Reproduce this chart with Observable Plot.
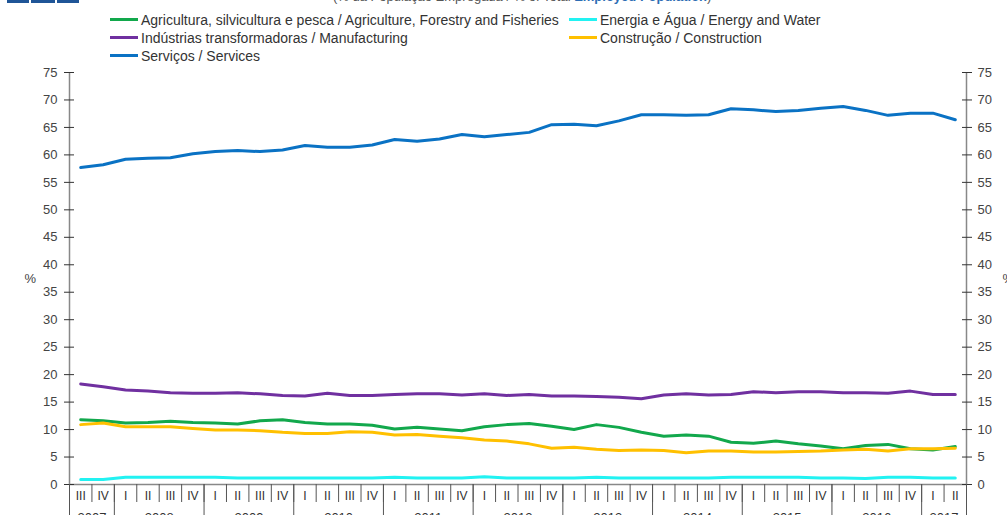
<!DOCTYPE html>
<html>
<head>
<meta charset="utf-8">
<script src="https://cdn.jsdelivr.net/npm/d3@7"></script>
<script src="https://cdn.jsdelivr.net/npm/@observablehq/plot@0.6"></script>
<style>
  html, body { margin: 0; padding: 0; background: #fff; overflow: hidden; }
  #page { position: relative; width: 1007px; height: 515px; font-family: "Liberation Sans", Arial, sans-serif; }
  #header { position: relative; width: 1007px; height: 62px; }
  .logo { position: absolute; top: 0; height: 3px; background: #1f5597; }
  #title { position: absolute; top: -10px; left: 333px; font-size: 13px; line-height: 13px; white-space: nowrap; color: #555; }
  #title b { color: #2e6db4; }
  .lg { position: absolute; font-size: 14px; color: #333; white-space: nowrap; line-height: 16px; }
  .lg span.sw { position: absolute; left: -31px; top: 6px; width: 28px; height: 3px; }
</style>
</head>
<body>
<div id="page">
  <div id="header"></div>
  <div id="chart"></div>
</div>
<script>
// ---- data ----
const quarters = ["III","IV",
  "I","II","III","IV", "I","II","III","IV", "I","II","III","IV",
  "I","II","III","IV", "I","II","III","IV", "I","II","III","IV",
  "I","II","III","IV", "I","II","III","IV", "I","II","III","IV",
  "I","II"];
const years = ["2007","2008","2009","2010","2011","2012","2013","2014","2015","2016","2017"];

const seriesNames = [
  "Agricultura, silvicultura e pesca / Agriculture, Forestry and Fisheries",
  "Energia e Água / Energy and Water",
  "Indústrias transformadoras / Manufacturing",
  "Construção / Construction",
  "Serviços / Services"
];
const seriesColors = ["#12a84c", "#22f2f2", "#7030a0", "#ffc000", "#0a72c4"];

const agriculture = [11.8,11.6,11.2,11.3,11.5,11.3,11.2,11.0,11.6,11.8,11.3,11.0,11.0,10.8,10.1,10.4,10.1,9.8,10.5,10.9,
                     11.1,10.6,10.0,10.9,10.4,9.5,8.8,9.0,8.8,7.7,7.5,7.9,7.4,7.0,6.5,7.1,7.3,6.5,6.3,6.9];
const energy      = [0.9,0.9,1.3,1.3,1.3,1.3,1.3,1.2,1.2,1.2,1.2,1.2,1.2,1.2,1.3,1.2,1.2,1.2,1.4,1.2,
                     1.2,1.2,1.2,1.3,1.2,1.2,1.2,1.2,1.2,1.3,1.3,1.3,1.3,1.2,1.2,1.1,1.3,1.3,1.2,1.2];
const manufacturing = [18.3,17.8,17.2,17.0,16.7,16.6,16.6,16.7,16.5,16.2,16.1,16.6,16.2,16.2,16.4,16.5,16.5,16.3,16.5,16.2,
                     16.4,16.1,16.1,16.0,15.9,15.6,16.3,16.5,16.3,16.4,16.9,16.7,16.9,16.9,16.7,16.7,16.6,17.0,16.4,16.4];
const construction = [10.9,11.2,10.5,10.5,10.5,10.2,9.9,9.9,9.8,9.5,9.3,9.3,9.6,9.5,9.0,9.1,8.8,8.5,8.1,7.9,
                     7.4,6.6,6.8,6.4,6.2,6.3,6.2,5.8,6.1,6.1,5.9,5.9,6.0,6.1,6.3,6.4,6.1,6.5,6.5,6.6];
const services    = [57.7,58.2,59.2,59.4,59.5,60.2,60.6,60.8,60.6,60.9,61.7,61.4,61.4,61.8,62.8,62.5,62.9,63.7,63.3,63.7,
                     64.1,65.5,65.6,65.3,66.2,67.3,67.3,67.2,67.3,68.4,68.2,67.9,68.1,68.5,68.8,68.1,67.2,67.6,67.6,66.4];
const yTicks = [0,5,10,15,20,25,30,35,40,45,50,55,60,65,70,75];

// ---- build ----
const valuesBySeries = [agriculture, energy, manufacturing, construction, services];
const rows = [];
valuesBySeries.forEach((vals, s) => vals.forEach((v, i) => rows.push({series: seriesNames[s], i, v})));

// year groups from quarter labels
const yearStarts = [0];
quarters.forEach((q, i) => { if (q === "I") yearStarts.push(i); });
const yearBounds = [...yearStarts.map(i => i - 0.5), quarters.length - 0.5];
const yearCenters = yearStarts.map((s, k) => {
  const e = k + 1 < yearStarts.length ? yearStarts[k + 1] - 1 : quarters.length - 1;
  return (s + e) / 2;
});
const qIdx = quarters.map((_, i) => i);
const qBounds = [...qIdx.map(i => i - 0.5), quarters.length - 0.5];

// header
const header = document.getElementById("header");
[[7, 22], [31, 24], [57, 22]].forEach(([l, w]) => {
  const d = document.createElement("div"); d.className = "logo";
  d.style.left = l + "px"; d.style.width = w + "px"; header.appendChild(d);
});
const t = document.createElement("div"); t.id = "title";
t.innerHTML = "(% da População Empregada / % of Total <b>Employed Population</b>)";
header.appendChild(t);
const legendPos = [[141, 12], [600, 12], [141, 30], [600, 30], [141, 48]];
const legendOrder = [0, 1, 2, 3, 4];
legendOrder.forEach((s, k) => {
  const [x, y] = legendPos[k];
  const d = document.createElement("div"); d.className = "lg";
  d.style.left = x + "px"; d.style.top = y + "px";
  const sw = document.createElement("span"); sw.className = "sw"; sw.style.background = seriesColors[s];
  d.appendChild(sw);
  d.appendChild(document.createTextNode(seriesNames[s]));
  header.appendChild(d);
});

const drawOrder = [4, 2, 0, 3, 1];
const chart = Plot.plot({
  width: 1007,
  height: 478,
  marginTop: 10,
  marginBottom: 56,
  marginLeft: 69,
  marginRight: 41,
  style: {fontFamily: "'Liberation Sans', Arial, sans-serif", fontSize: "13px", color: "#444", background: "white", overflow: "visible"},
  x: {type: "linear", domain: [-0.5, quarters.length - 0.5]},
  y: {domain: [0, 75]},
  color: {domain: seriesNames, range: seriesColors},
  marks: [
    // frame lines
    Plot.ruleY([0], {stroke: "#888", strokeWidth: 1.5}),
    Plot.ruleX([-0.5, quarters.length - 0.5], {stroke: "#888", strokeWidth: 1.5}),
    // left axis
    Plot.axisY({anchor: "left", ticks: yTicks, tickSize: 10, dx: 5, tickFormat: () => "", stroke: "#333", label: null}),
    Plot.axisY({anchor: "left", ticks: yTicks, tickSize: 0, tickPadding: 12, tickFormat: d => d, fill: "#444", label: null}),
    // right axis
    Plot.axisY({anchor: "right", ticks: yTicks, tickSize: 10, dx: -5, tickFormat: () => "", stroke: "#333", label: null}),
    Plot.axisY({anchor: "right", ticks: yTicks, tickSize: 0, tickPadding: 11, tickFormat: d => d, fill: "#444", label: null}),
    Plot.text(["%"], {frameAnchor: "left", dx: -45, fill: "#444"}),
    Plot.text(["%"], {frameAnchor: "right", dx: 36, textAnchor: "start", fill: "#444"}),
    // bottom category axis
    Plot.axisX({ticks: qBounds, tickSize: 18, tickFormat: () => "", stroke: "#555", label: null}),
    Plot.axisX({ticks: yearBounds, tickSize: 60, tickFormat: () => "", stroke: "#555", label: null}),
    Plot.axisX({ticks: qIdx, tickSize: 0, tickPadding: 7, tickFormat: i => quarters[i], fontSize: 12, fill: "#333", label: null}),
    Plot.axisX({ticks: yearCenters, tickSize: 0, tickPadding: 28, tickFormat: (d) => years[yearCenters.indexOf(d)], fill: "#333", label: null}),
    // lines
    ...drawOrder.map(s => Plot.line(rows.filter(r => r.series === seriesNames[s]), {
      x: "i", y: "v", stroke: seriesColors[s], strokeWidth: 3, curve: "linear"
    }))
  ]
});
document.getElementById("chart").appendChild(chart);
</script>
</body>
</html>
